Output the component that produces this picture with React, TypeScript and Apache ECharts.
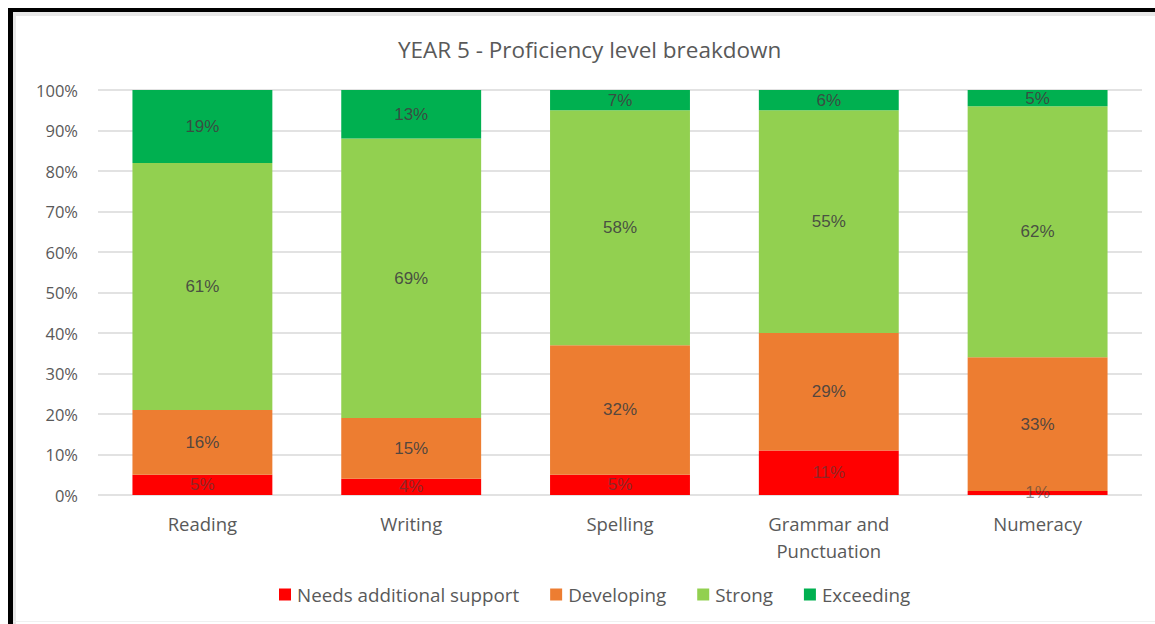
import React, { useEffect, useRef } from "react";
import * as echarts from "echarts";

const categories = ["Reading", "Writing", "Spelling", "Grammar and\nPunctuation", "Numeracy"];
const needsSupport = [5, 4, 5, 11, 1];
const developing = [16, 15, 32, 29, 33];
const strong = [61, 69, 58, 55, 62];
const exceeding = [19, 13, 7, 6, 5];
const seriesNames = ["Needs additional support", "Developing", "Strong", "Exceeding"];
const colors = ["#FF0000", "#ED7D31", "#92D050", "#00B050"];
const yTicks = [0, 10, 20, 30, 40, 50, 60, 70, 80, 90, 100];

const AXIS_FONT = "'Open Sans', Roboto, sans-serif";

export default function App() {
  const ref = useRef<HTMLDivElement>(null);
  useEffect(() => {
    if (!ref.current) return;
    const chart = echarts.init(ref.current, null, { renderer: "svg" });
    const data = [needsSupport, developing, strong, exceeding];
    chart.setOption({
      animation: false,
      backgroundColor: "#ffffff",
      title: {
        text: "YEAR 5 - Proficiency level breakdown",
        left: 393,
        top: 33,
        textStyle: { fontFamily: AXIS_FONT, fontSize: 22.5, fontWeight: "normal", color: "#595959" },
      },
      legend: {
        left: 274,
        top: 580,
        itemWidth: 12,
        itemHeight: 12,
        itemGap: 31,
        icon: "rect",
        textStyle: { fontFamily: AXIS_FONT, fontSize: 18.8, color: "#595959", padding: [0, 0, 0, 1] },
        data: seriesNames,
      },
      grid: { left: 98, right: 13, top: 90, bottom: 129, containLabel: false },
      xAxis: {
        type: "category",
        data: categories,
        axisLine: { show: false },
        axisTick: { show: false },
        axisLabel: {
          fontFamily: AXIS_FONT,
          fontSize: 18.5,
          color: "#595959",
          margin: 15,
          lineHeight: 27,
          interval: 0,
        },
      },
      yAxis: {
        type: "value",
        min: 0,
        max: 100,
        interval: 10,
        axisLine: { show: false },
        axisTick: { show: false },
        splitLine: { lineStyle: { color: "#D9D9D9", width: 1.5 } },
        axisLabel: {
          fontFamily: AXIS_FONT,
          fontSize: 16.5,
          color: "#595959",
          margin: 20,
          formatter: (v: number) => (yTicks.includes(v) ? v + "%" : ""),
        },
      },
      series: seriesNames.map((name, i) => ({
        name,
        type: "bar",
        stack: "total",
        barWidth: "67%",
        data: data[i],
        itemStyle: { color: colors[i] },
        label: {
          show: true,
          position: "inside",
          formatter: "{c}%",
          fontFamily: "'Liberation Sans', Arial, sans-serif",
          fontSize: 17,
          color: "#404040",
          opacity: i === 0 ? 0.6 : 0.9,
        },
      })),
      graphic: [
        { type: "rect", shape: { x: 13, y: 12, width: 1142, height: 4 }, style: { fill: "#E8E8E8" }, silent: true },
        { type: "rect", shape: { x: 13, y: 12, width: 3, height: 612 }, style: { fill: "#E8E8E8" }, silent: true },
        { type: "rect", shape: { x: 8, y: 8, width: 1147, height: 4 }, style: { fill: "#000000" }, silent: true },
        { type: "rect", shape: { x: 8, y: 8, width: 5, height: 616 }, style: { fill: "#000000" }, silent: true },
        { type: "rect", shape: { x: 13, y: 621, width: 1142, height: 1 }, style: { fill: "#F0F0F0" }, silent: true },
      ],
    });
    return () => chart.dispose();
  }, []);
  return (
    <div
      ref={ref}
      style={{ position: "fixed", left: 0, top: 0, width: 1155, height: 624, background: "#fff" }}
    />
  );
}
